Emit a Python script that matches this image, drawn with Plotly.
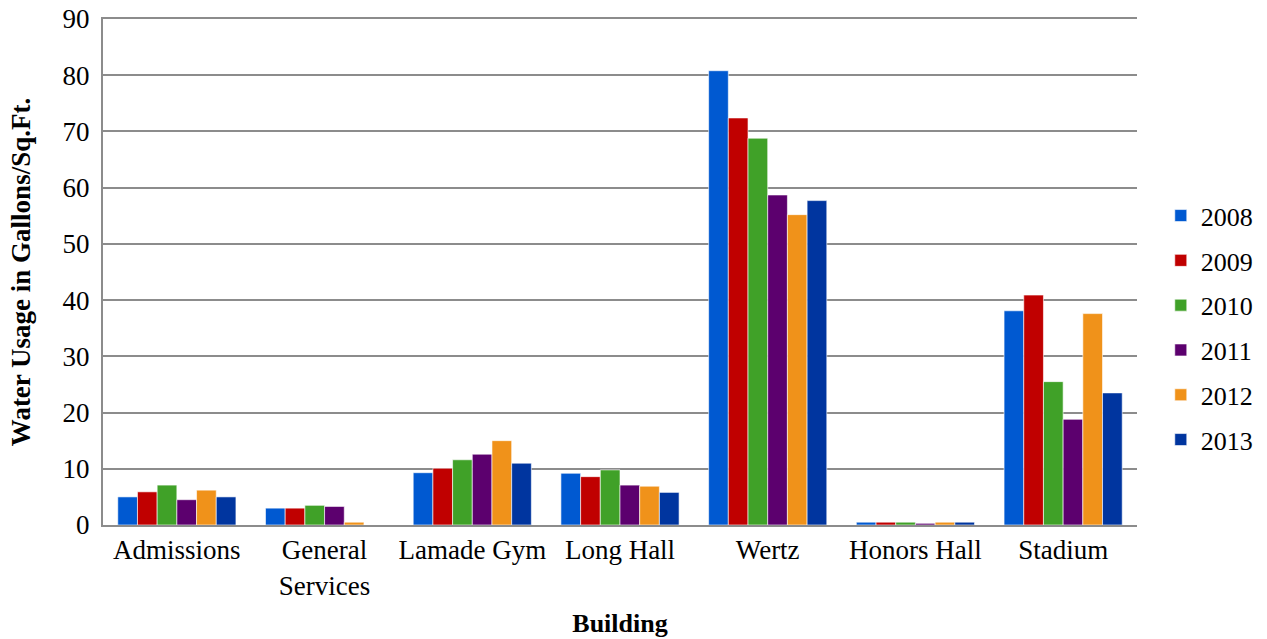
import plotly.graph_objects as go

buildings = ["Admissions", "General<br>Services", "Lamade Gym", "Long Hall", "Wertz", "Honors Hall", "Stadium"]
years = ["2008", "2009", "2010", "2011", "2012", "2013"]
v2008 = [5.0, 3.0, 9.3, 9.2, 80.8, 0.5, 38.1]
v2009 = [5.9, 3.0, 10.1, 8.6, 72.4, 0.5, 40.9]
v2010 = [7.1, 3.5, 11.6, 9.8, 68.8, 0.5, 25.5]
v2011 = [4.5, 3.3, 12.6, 7.1, 58.7, 0.3, 18.8]
v2012 = [6.2, 0.5, 15.0, 6.9, 55.2, 0.5, 37.6]
v2013 = [5.0, 0.0, 11.0, 5.8, 57.7, 0.5, 23.5]
series = [v2008, v2009, v2010, v2011, v2012, v2013]
colors = ["#0059d1", "#c00000", "#40a128", "#5c006e", "#f0921a", "#00359f"]

fig = go.Figure()
for yr, vals, c in zip(years, series, colors):
    fig.add_trace(go.Bar(
        name=yr, x=buildings, y=vals, legendgroup=yr,
        marker=dict(color=c, line=dict(color="rgba(255,255,255,0.6)", width=1)),
    ))

font_family = "Liberation Serif, Times New Roman, serif"
fig.update_layout(
    width=1267, height=639,
    margin=dict(l=103, r=130, t=19, b=114, autoexpand=False),
    plot_bgcolor="white", paper_bgcolor="white",
    barmode="group", bargap=0.2, bargroupgap=0,
    font=dict(family=font_family, size=27, color="black"),
    legend=dict(x=1.023, xanchor="left", y=0.39, yanchor="middle",
                font=dict(family=font_family, size=26), traceorder="grouped",
                tracegroupgap=8, itemwidth=30),
    xaxis=dict(
        title=dict(text="<b>Building</b>", font=dict(family=font_family, size=26), standoff=14),
        showline=True, linecolor="#8c8c8c", linewidth=2, mirror=True,
        tickfont=dict(family=font_family, size=27), ticks="", automargin=False,
    ),
    yaxis=dict(
        title=dict(text="<b>Water Usage in Gallons/Sq.Ft.</b>", font=dict(family=font_family, size=27), standoff=24),
        range=[0, 90], dtick=10, tickfont=dict(family=font_family, size=27),
        ticklabelstandoff=6,
        showgrid=True, gridcolor="#8c8c8c", gridwidth=2,
        showline=True, linecolor="#8c8c8c", linewidth=2,
        zeroline=False, ticks="", automargin=False,
    ),
)

fig.write_html(
    "out.html",
    config={"displayModeBar": False},
    post_script="document.body.style.margin='0';document.body.style.overflow='hidden';",
)
